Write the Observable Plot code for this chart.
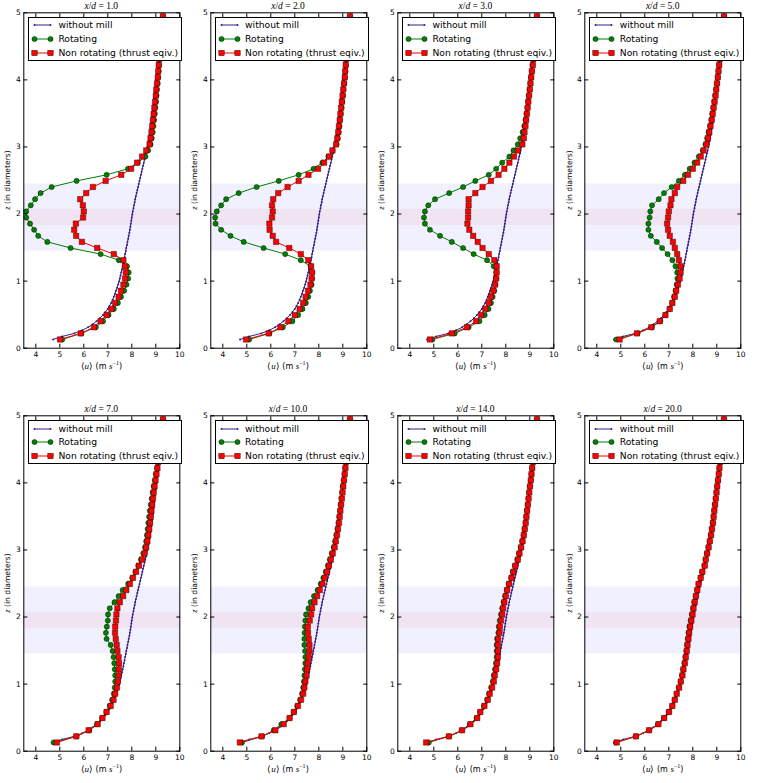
<!DOCTYPE html>
<html>
<head>
<meta charset="utf-8">
<script src="https://cdn.jsdelivr.net/npm/d3@7"></script>
<script src="https://cdn.jsdelivr.net/npm/@observablehq/plot@0.6"></script>
<style>
html,body{margin:0;padding:0;background:#fff;}
#root{position:relative;width:764px;height:783px;overflow:hidden;font-family:"DejaVu Sans",sans-serif;color:#000;}
.panel{position:absolute;width:187px;height:392px;}
.ttl{position:absolute;top:0.5px;font-family:"Liberation Serif",serif;font-size:9.5px;line-height:10px;white-space:nowrap;transform:translateX(-50%);}
.xl{position:absolute;font-size:8px;line-height:10px;white-space:nowrap;transform:translate(-50%,-50%);}
.m{font-family:"Liberation Serif",serif;font-size:9px;}
.yl{position:absolute;font-size:7.6px;line-height:9px;white-space:nowrap;transform:translate(-50%,-50%) rotate(-90deg);}
.leg{position:absolute;box-sizing:border-box;background:#fff;border:1px solid #000;}
.leg .row{position:absolute;left:0;width:100%;height:12px;}
.leg .row svg{position:absolute;left:4px;top:1px;overflow:visible;}
.leg .row span{position:absolute;left:29.5px;top:0;font-size:9.2px;line-height:12px;white-space:nowrap;}
</style>
</head>
<body>
<div id="root"></div>
<script>
// ---------------- data ----------------
const xdLabels = ["1.0", "2.0", "3.0", "5.0", "7.0", "10.0", "14.0", "20.0"];
const seriesNames = ["without mill", "Rotating", "Non rotating (thrust eqiv.)"];
const xTicks = [4, 5, 6, 7, 8, 9, 10];
const yTicks = [0, 1, 2, 3, 4, 5];
const bandLo = [1.45, 1.83];
const bandHi = [2.45, 2.07];

// heights (in diameters) of the rotating / non-rotating profile points
const zMarks = [0.13, 0.221, 0.312, 0.403, 0.494, 0.585, 0.675, 0.766, 0.857, 0.948,
  1.039, 1.13, 1.221, 1.312, 1.403, 1.494, 1.585, 1.675, 1.766, 1.857,
  1.948, 2.039, 2.13, 2.221, 2.312, 2.403, 2.494, 2.585, 2.675, 2.766,
  2.857, 2.948, 3.039, 3.13, 3.221, 3.312, 3.403, 3.494, 3.585, 3.675,
  3.766, 3.857, 3.948, 4.039, 4.13, 4.221, 4.312, 4.403, 4.494, 4.585,
  4.675, 4.766, 4.857, 4.948];

// heights of the inflow profile points (without mill)
const zBlue = [0.13, 0.175, 0.221, 0.266, 0.312, 0.357, 0.403, 0.448, 0.494, 0.539,
  0.585, 0.63, 0.675, 0.721, 0.766, 0.812, 0.857, 0.903, 0.948, 0.994,
  1.039, 1.085, 1.13, 1.175, 1.221, 1.266, 1.312, 1.357, 1.403, 1.448,
  1.494, 1.539, 1.585, 1.63, 1.675, 1.721, 1.766, 1.812, 1.857, 1.903,
  1.948, 1.994, 2.039, 2.085, 2.13, 2.175, 2.221, 2.266, 2.312, 2.357,
  2.403, 2.448, 2.494, 2.539, 2.585, 2.63, 2.675, 2.721, 2.766, 2.812,
  2.857, 2.903, 2.948, 2.994, 3.039, 3.085, 3.13, 3.175, 3.221, 3.266,
  3.312, 3.357, 3.403, 3.448, 3.494, 3.539, 3.585, 3.63, 3.675, 3.721,
  3.766, 3.812, 3.857, 3.903, 3.948, 3.994, 4.039, 4.085, 4.13, 4.175,
  4.221, 4.266, 4.312, 4.357, 4.403, 4.448, 4.494, 4.539, 4.585, 4.63,
  4.675, 4.721, 4.766, 4.812, 4.857, 4.903, 4.948];

const withoutMill = [4.72, 5.1, 5.6, 5.93, 6.18, 6.37, 6.53, 6.67, 6.8, 6.9,
  7.0, 7.07, 7.14, 7.2, 7.25, 7.3, 7.34, 7.39, 7.43, 7.47,
  7.5, 7.53, 7.56, 7.59, 7.62, 7.65, 7.67, 7.7, 7.72, 7.75,
  7.77, 7.8, 7.82, 7.85, 7.87, 7.9, 7.92, 7.94, 7.96, 7.98,
  8.0, 8.02, 8.04, 8.07, 8.09, 8.12, 8.14, 8.17, 8.2, 8.23,
  8.26, 8.29, 8.32, 8.35, 8.38, 8.41, 8.44, 8.47, 8.5, 8.53,
  8.56, 8.59, 8.62, 8.645, 8.67, 8.695, 8.72, 8.74, 8.76, 8.78,
  8.8, 8.815, 8.83, 8.845, 8.86, 8.875, 8.89, 8.905, 8.92, 8.935,
  8.95, 8.965, 8.98, 8.995, 9.01, 9.025, 9.04, 9.055, 9.07, 9.085,
  9.1, 9.11, 9.12, 9.13, 9.14, 9.15, 9.16, 9.17, 9.18, 9.19,
  9.2, 9.21, 9.22, 9.23, 9.24, 9.25, 9.26];

const rotXd1 = [5.1, 5.9, 6.5, 6.8, 7.03, 7.25, 7.42, 7.55, 7.68, 7.78, 7.85, 7.87, 7.8, 7.46, 6.7, 5.45, 4.48, 4.1, 3.93, 3.76, 3.6, 3.6, 3.79, 3.97, 4.2, 4.66, 5.7, 6.95, 7.84, 8.25, 8.57, 8.68, 8.78, 8.83, 8.87, 8.9, 8.93, 8.96, 8.98, 9.01, 9.03, 9.05, 9.08, 9.1, 9.12, 9.14, 9.16, 9.18, 9.2, 9.22, 9.24, 9.26, 9.28, 9.3];
const nonXd1 = [5.01, 5.87, 6.42, 6.7, 6.95, 7.15, 7.3, 7.45, 7.55, 7.65, 7.72, 7.75, 7.72, 7.65, 7.25, 6.56, 5.92, 5.68, 5.6, 5.67, 5.97, 6.0, 5.96, 5.85, 6.1, 6.38, 6.91, 7.56, 7.97, 8.22, 8.43, 8.6, 8.74, 8.78, 8.82, 8.85, 8.88, 8.91, 8.94, 8.97, 9.0, 9.02, 9.05, 9.08, 9.1, 9.12, 9.14, 9.16, 9.18, 9.2, 9.22, 9.24, 9.27, 9.3];

const rotXd2 = [5.1, 5.94, 6.5, 6.9, 7.14, 7.32, 7.46, 7.56, 7.63, 7.7, 7.72, 7.72, 7.66, 7.25, 6.6, 5.7, 4.87, 4.32, 3.93, 3.7, 3.68, 3.75, 3.93, 4.14, 4.66, 5.41, 6.33, 7.16, 7.78, 8.15, 8.4, 8.57, 8.74, 8.79, 8.83, 8.86, 8.89, 8.92, 8.95, 8.98, 9.01, 9.03, 9.06, 9.09, 9.11, 9.13, 9.15, 9.17, 9.19, 9.21, 9.23, 9.25, 9.27, 9.3];
const nonXd2 = [4.97, 5.91, 6.4, 6.73, 7.0, 7.2, 7.35, 7.45, 7.55, 7.65, 7.7, 7.72, 7.68, 7.56, 7.25, 6.77, 6.22, 6.08, 5.95, 5.94, 6.05, 6.08, 6.05, 6.1, 6.31, 6.7, 7.16, 7.57, 7.97, 8.22, 8.43, 8.57, 8.72, 8.77, 8.81, 8.84, 8.87, 8.9, 8.93, 8.96, 8.99, 9.02, 9.05, 9.08, 9.1, 9.12, 9.14, 9.16, 9.18, 9.2, 9.22, 9.24, 9.27, 9.3];

const rotXd3 = [4.94, 5.87, 6.45, 6.9, 7.12, 7.28, 7.38, 7.45, 7.52, 7.57, 7.6, 7.6, 7.5, 7.22, 6.66, 6.22, 5.75, 5.26, 4.84, 4.63, 4.59, 4.63, 4.77, 5.05, 5.64, 6.22, 6.73, 7.29, 7.6, 7.85, 8.15, 8.32, 8.5, 8.6, 8.7, 8.77, 8.82, 8.86, 8.9, 8.93, 8.96, 8.99, 9.02, 9.05, 9.08, 9.11, 9.14, 9.16, 9.18, 9.2, 9.22, 9.24, 9.27, 9.3];
const nonXd3 = [4.84, 5.75, 6.38, 6.76, 6.97, 7.15, 7.29, 7.38, 7.48, 7.55, 7.6, 7.62, 7.62, 7.52, 7.29, 7.03, 6.83, 6.64, 6.48, 6.4, 6.43, 6.43, 6.45, 6.45, 6.73, 7.03, 7.38, 7.7, 7.94, 8.15, 8.34, 8.5, 8.69, 8.75, 8.78, 8.82, 8.85, 8.88, 8.91, 8.94, 8.97, 9.0, 9.03, 9.06, 9.09, 9.13, 9.15, 9.17, 9.19, 9.21, 9.23, 9.25, 9.27, 9.3];

const rotXd5 = [4.81, 5.7, 6.3, 6.65, 6.86, 7.03, 7.14, 7.22, 7.28, 7.33, 7.36, 7.35, 7.28, 7.15, 6.95, 6.72, 6.5, 6.25, 6.15, 6.15, 6.2, 6.23, 6.3, 6.58, 6.8, 7.12, 7.42, 7.67, 7.87, 8.07, 8.25, 8.42, 8.53, 8.6, 8.66, 8.72, 8.77, 8.81, 8.85, 8.89, 8.93, 8.97, 9.01, 9.04, 9.07, 9.1, 9.13, 9.15, 9.17, 9.19, 9.21, 9.24, 9.27, 9.3];
const nonXd5 = [4.95, 5.67, 6.27, 6.62, 6.86, 7.04, 7.15, 7.25, 7.31, 7.38, 7.45, 7.49, 7.49, 7.42, 7.35, 7.25, 7.17, 7.04, 6.97, 6.93, 6.97, 7.0, 7.07, 7.11, 7.25, 7.35, 7.6, 7.8, 8.0, 8.18, 8.33, 8.45, 8.57, 8.63, 8.69, 8.74, 8.79, 8.83, 8.87, 8.91, 8.95, 8.98, 9.01, 9.04, 9.07, 9.1, 9.13, 9.15, 9.17, 9.19, 9.21, 9.24, 9.27, 9.3];

const rotXd7 = [4.74, 5.69, 6.23, 6.55, 6.76, 6.94, 7.08, 7.18, 7.25, 7.29, 7.31, 7.31, 7.29, 7.27, 7.24, 7.2, 7.12, 6.95, 6.92, 6.96, 7.0, 7.01, 7.08, 7.28, 7.45, 7.62, 7.85, 8.02, 8.15, 8.27, 8.38, 8.48, 8.55, 8.6, 8.63, 8.66, 8.69, 8.72, 8.75, 8.79, 8.83, 8.87, 8.91, 8.96, 9.0, 9.05, 9.08, 9.12, 9.15, 9.18, 9.21, 9.24, 9.27, 9.3];
const nonXd7 = [4.88, 5.69, 6.2, 6.58, 6.78, 6.95, 7.12, 7.24, 7.31, 7.38, 7.42, 7.45, 7.46, 7.47, 7.45, 7.4, 7.37, 7.33, 7.3, 7.31, 7.34, 7.36, 7.4, 7.5, 7.64, 7.77, 7.92, 8.05, 8.18, 8.3, 8.43, 8.53, 8.6, 8.65, 8.69, 8.73, 8.76, 8.79, 8.82, 8.85, 8.88, 8.91, 8.95, 8.99, 9.03, 9.07, 9.1, 9.13, 9.16, 9.19, 9.22, 9.25, 9.27, 9.3];

const rotXd10 = [4.8, 5.64, 6.12, 6.44, 6.79, 6.96, 7.1, 7.22, 7.3, 7.35, 7.38, 7.4, 7.42, 7.44, 7.44, 7.43, 7.4, 7.4, 7.41, 7.42, 7.44, 7.47, 7.57, 7.66, 7.8, 7.95, 8.08, 8.19, 8.29, 8.38, 8.46, 8.54, 8.62, 8.68, 8.73, 8.78, 8.82, 8.85, 8.88, 8.91, 8.94, 8.97, 9.0, 9.04, 9.07, 9.1, 9.13, 9.15, 9.17, 9.19, 9.21, 9.24, 9.27, 9.3];
const nonXd10 = [4.71, 5.61, 6.19, 6.54, 6.78, 6.96, 7.13, 7.26, 7.35, 7.4, 7.44, 7.49, 7.51, 7.54, 7.58, 7.61, 7.61, 7.58, 7.55, 7.54, 7.62, 7.68, 7.72, 7.82, 7.93, 8.04, 8.15, 8.25, 8.34, 8.42, 8.5, 8.58, 8.66, 8.71, 8.76, 8.8, 8.84, 8.87, 8.9, 8.93, 8.96, 8.99, 9.02, 9.05, 9.08, 9.11, 9.13, 9.16, 9.18, 9.2, 9.22, 9.24, 9.27, 9.3];

const rotXd14 = [4.79, 5.63, 6.16, 6.5, 6.78, 6.93, 7.09, 7.22, 7.3, 7.39, 7.46, 7.5, 7.55, 7.59, 7.62, 7.62, 7.62, 7.64, 7.69, 7.71, 7.75, 7.8, 7.85, 7.91, 7.97, 8.04, 8.12, 8.22, 8.3, 8.38, 8.48, 8.55, 8.62, 8.68, 8.74, 8.78, 8.82, 8.85, 8.88, 8.91, 8.94, 8.97, 9.0, 9.04, 9.07, 9.1, 9.13, 9.16, 9.18, 9.2, 9.22, 9.24, 9.27, 9.3];
const nonXd14 = [4.68, 5.63, 6.18, 6.53, 6.81, 6.94, 7.11, 7.25, 7.33, 7.43, 7.5, 7.54, 7.6, 7.64, 7.67, 7.67, 7.67, 7.68, 7.74, 7.75, 7.8, 7.85, 7.89, 7.94, 8.0, 8.06, 8.14, 8.24, 8.31, 8.4, 8.5, 8.57, 8.64, 8.7, 8.75, 8.79, 8.83, 8.86, 8.89, 8.92, 8.95, 8.98, 9.01, 9.04, 9.07, 9.1, 9.13, 9.16, 9.18, 9.2, 9.22, 9.24, 9.27, 9.3];

const rotXd20 = [4.8, 5.63, 6.18, 6.55, 6.8, 7.0, 7.14, 7.24, 7.32, 7.42, 7.49, 7.55, 7.6, 7.65, 7.69, 7.73, 7.76, 7.79, 7.82, 7.86, 7.91, 7.96, 8.01, 8.06, 8.12, 8.18, 8.24, 8.32, 8.39, 8.48, 8.53, 8.59, 8.65, 8.7, 8.75, 8.79, 8.83, 8.86, 8.89, 8.92, 8.95, 8.98, 9.01, 9.05, 9.08, 9.11, 9.14, 9.16, 9.18, 9.2, 9.22, 9.24, 9.27, 9.3];
const nonXd20 = [4.83, 5.63, 6.18, 6.57, 6.81, 7.01, 7.15, 7.25, 7.33, 7.43, 7.5, 7.57, 7.61, 7.67, 7.71, 7.75, 7.78, 7.82, 7.85, 7.89, 7.94, 7.99, 8.03, 8.08, 8.13, 8.19, 8.24, 8.33, 8.4, 8.5, 8.54, 8.6, 8.66, 8.71, 8.76, 8.8, 8.84, 8.87, 8.9, 8.93, 8.96, 8.99, 9.02, 9.05, 9.08, 9.11, 9.14, 9.16, 9.18, 9.2, 9.22, 9.24, 9.27, 9.3];

const rotating = [rotXd1, rotXd2, rotXd3, rotXd5, rotXd7, rotXd10, rotXd14, rotXd20];
const nonRotating = [nonXd1, nonXd2, nonXd3, nonXd5, nonXd7, nonXd10, nonXd14, nonXd20];

// ---------------- styling / layout ----------------
const C_BASE = "#3b1e8c", C_ROT = "#008000", C_NON = "#ff0000";
const W = 187, H = 392;
const M = {l: 23.3, r: 7.7, t: 12.3, b: 44.3};
const FW = W - M.l - M.r, FH = H - M.t - M.b;
const colLeft = [23.3, 210, 397.4, 584.7];
const rowTop = [0, 403.4];

const root = document.getElementById("root");
const base = zBlue.map((z, i) => ({z, u: withoutMill[i]}));
const bands = bandLo.map((lo, i) => ({lo, hi: bandHi[i]}));
const fmtInt = d => String(d);

function legendHTML() {
  const sym = (kind) => {
    if (kind === 0) return `<svg width="20" height="10"><line x1="1.5" x2="17.5" y1="5" y2="5" stroke="${C_BASE}" stroke-width="1"/><circle cx="1.5" cy="5" r="1" fill="${C_BASE}"/><circle cx="17.5" cy="5" r="1" fill="${C_BASE}"/></svg>`;
    if (kind === 1) return `<svg width="20" height="10"><line x1="1.5" x2="17.5" y1="5" y2="5" stroke="${C_ROT}" stroke-width="1"/><circle cx="1.5" cy="5" r="2.6" fill="${C_ROT}" stroke="#000" stroke-width="0.4"/><circle cx="17.5" cy="5" r="2.6" fill="${C_ROT}" stroke="#000" stroke-width="0.4"/></svg>`;
    return `<svg width="20" height="10"><line x1="1.5" x2="17.5" y1="5" y2="5" stroke="${C_NON}" stroke-width="1"/><rect x="-1.2" y="2.3" width="5.4" height="5.4" fill="${C_NON}" stroke="#000" stroke-width="0.4"/><rect x="14.8" y="2.3" width="5.4" height="5.4" fill="${C_NON}" stroke="#000" stroke-width="0.4"/></svg>`;
  };
  const tops = [1.6, 15.2, 28.9];
  return seriesNames.map((n, i) => `<div class="row" style="top:${tops[i]}px">${sym(i)}<span>${n}</span></div>`).join("");
}

xdLabels.forEach((lab, k) => {
  const r = Math.floor(k / 4), c = k % 4;
  const div = document.createElement("div");
  div.className = "panel";
  div.style.left = (colLeft[c] - M.l) + "px";
  div.style.top = rowTop[r] + "px";

  const prof = zMarks.map((z, i) => ({z, rot: rotating[k][i], non: nonRotating[k][i]}));

  const svg = Plot.plot({
    width: W, height: H,
    marginLeft: M.l, marginRight: M.r, marginTop: M.t, marginBottom: M.b,
    x: {domain: [3.5, 10]},
    y: {domain: [0, 5]},
    style: {fontFamily: "DejaVu Sans", fontSize: "7.5px", background: "transparent", overflow: "visible"},
    marks: [
      Plot.rect(bands.slice(0, 1), {y1: "lo", y2: "hi", fill: "blue", fillOpacity: 0.06}),
      Plot.rect(bands.slice(1, 2), {y1: "lo", y2: "hi", fill: "red", fillOpacity: 0.05}),
      Plot.line(base, {x: "u", y: "z", stroke: C_BASE, strokeWidth: 1}),
      Plot.dot(base, {x: "u", y: "z", r: 1, fill: C_BASE}),
      Plot.line(prof, {x: "rot", y: "z", stroke: C_ROT, strokeWidth: 1}),
      Plot.dot(prof, {x: "rot", y: "z", r: 2.6, fill: C_ROT, stroke: "#000", strokeWidth: 0.4}),
      Plot.line(prof, {x: "non", y: "z", stroke: C_NON, strokeWidth: 1}),
      Plot.dot(prof, {x: "non", y: "z", symbol: "square", r: 3.05, fill: C_NON, stroke: "#000", strokeWidth: 0.4}),
      Plot.frame({stroke: "#000", strokeWidth: 1}),
      Plot.axisX(xTicks, {anchor: "bottom", tickSize: -4, tickFormat: () => "", label: null}),
      Plot.axisX(xTicks, {anchor: "top", tickSize: -4, tickFormat: () => "", label: null}),
      Plot.axisY(yTicks, {anchor: "left", tickSize: -4, tickFormat: () => "", label: null}),
      Plot.axisY(yTicks, {anchor: "right", tickSize: -4, tickFormat: () => "", label: null}),
      Plot.axisX(xTicks, {anchor: "bottom", tickSize: 0, tickPadding: 3, tickFormat: fmtInt, label: null, fill: "#000"}),
      Plot.axisY(yTicks, {anchor: "left", tickSize: 0, tickPadding: 3, tickFormat: fmtInt, label: null, fill: "#000"})
    ]
  });
  svg.style.position = "absolute";
  svg.style.left = "0px";
  svg.style.top = "0px";
  div.appendChild(svg);

  const cx = M.l + FW / 2;
  // title
  const t = document.createElement("div");
  t.className = "ttl";
  t.style.left = cx + "px";
  t.innerHTML = `<i>x</i>/<i>d</i> = ${lab}`;
  div.appendChild(t);
  // x label
  const xl = document.createElement("div");
  xl.className = "xl";
  xl.style.left = cx + "px";
  xl.style.top = (M.t + FH + 17) + "px";
  xl.innerHTML = `<span class="m">⟨<i>u</i>⟩</span> (m <span class="m"><i>s</i><sup style="font-size:6px">−1</sup></span>)`;
  div.appendChild(xl);
  // y label
  const yl = document.createElement("div");
  yl.className = "yl";
  yl.style.left = (M.l - 16) + "px";
  yl.style.top = (M.t + FH / 2) + "px";
  yl.innerHTML = `<span class="m" style="font-size:8.5px"><i>z</i></span> (in diameters)`;
  div.appendChild(yl);
  // legend
  const lg = document.createElement("div");
  lg.className = "leg";
  lg.style.left = (M.l + 4.6) + "px";
  lg.style.top = (M.t + 4.4) + "px";
  lg.style.width = "154.5px";
  lg.style.height = "44px";
  lg.innerHTML = legendHTML();
  div.appendChild(lg);

  root.appendChild(div);
});
</script>
</body>
</html>
